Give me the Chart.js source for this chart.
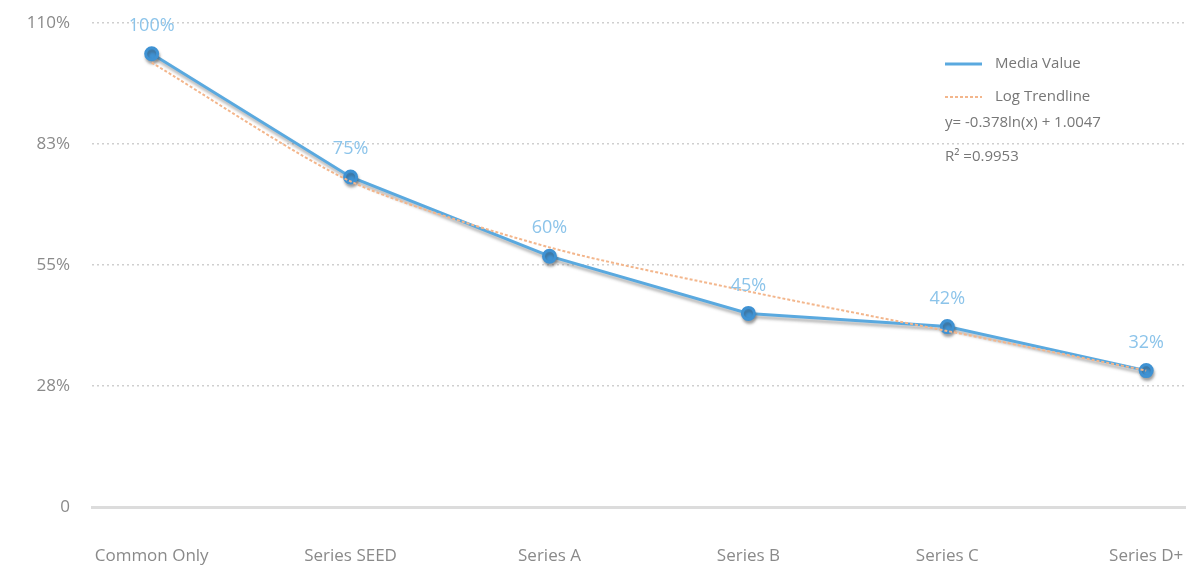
<!DOCTYPE html>
<html>
<head>
<meta charset="utf-8">
<script src="https://cdn.jsdelivr.net/npm/chart.js@4"></script>
<style>
  html, body { margin: 0; padding: 0; background: #fff; overflow: hidden; }
  #wrap { width: 1186px; height: 568px; position: relative; }
  canvas { display: block; }
</style>
</head>
<body>
<div id="wrap"><canvas id="chart"></canvas></div>
<script>
// values
const categories = ['Common Only', 'Series SEED', 'Series A', 'Series B', 'Series C', 'Series D+'];
const mediaValue = [103, 75, 57, 44, 41, 31];
const pointLabels = ['100%', '75%', '60%', '45%', '42%', '32%'];
const trendline = [101, 74, 59, 49, 40, 31];
const yTicks = [0, 27.5, 55, 82.5, 110];
const yTickLabels = ['0', '28%', '55%', '83%', '110%'];
const legendNames = ['Media Value', 'Log Trendline'];
const equation = 'y= -0.378ln(x) + 1.0047';
const rSquared = 'R² =0.9953';

const FONT = "'Open Sans', sans-serif";
const BLUE = '#5aa9df';
const BLUE_DOT = '#3f92d3';
const ORANGE = '#f3b68c';
const GREY_TEXT = '#8a8a8a';

// soft shadow under the blue line
const lineShadow = {
  id: 'lineShadow',
  beforeDatasetDraw(chart, args) {
    if (args.index !== 0) return;
    const ctx = chart.ctx;
    ctx.save();
    ctx.shadowColor = 'rgba(60,60,60,0.4)';
    ctx.shadowOffsetX = 1;
    ctx.shadowOffsetY = 3;
    ctx.shadowBlur = 3;
  },
  afterDatasetDraw(chart, args) {
    if (args.index !== 0) return;
    chart.ctx.restore();
  }
};

// value labels above the blue points
const valueLabels = {
  id: 'valueLabels',
  afterDatasetsDraw(chart) {
    const ctx = chart.ctx;
    const meta = chart.getDatasetMeta(0);
    ctx.save();
    ctx.font = '18px ' + FONT;
    ctx.fillStyle = '#8cc4ea';
    ctx.textAlign = 'center';
    ctx.textBaseline = 'middle';
    meta.data.forEach((pt, i) => {
      ctx.fillText(pointLabels[i], pt.x, pt.y - 28);
    });
    ctx.restore();
  }
};

// legend + equation in the top right corner
const cornerLegend = {
  id: 'cornerLegend',
  afterDraw(chart) {
    const ctx = chart.ctx;
    const x = chart.chartArea.right - 241;
    ctx.save();
    ctx.lineWidth = 3;
    ctx.strokeStyle = BLUE;
    ctx.beginPath();
    ctx.moveTo(x, 64);
    ctx.lineTo(x + 37, 64);
    ctx.stroke();
    ctx.lineWidth = 2;
    ctx.strokeStyle = ORANGE;
    ctx.setLineDash([3, 2]);
    ctx.beginPath();
    ctx.moveTo(x, 97);
    ctx.lineTo(x + 37, 97);
    ctx.stroke();
    ctx.setLineDash([]);
    ctx.font = '15px ' + FONT;
    ctx.fillStyle = '#777';
    ctx.textBaseline = 'middle';
    ctx.fillText(legendNames[0], x + 50, 64);
    ctx.fillText(legendNames[1], x + 50, 97);
    ctx.fillText(equation, x, 123);
    ctx.fillText(rSquared, x, 157);
    ctx.restore();
  }
};

new Chart(document.getElementById('chart'), {
  type: 'line',
  data: {
    datasets: [
      {
        label: legendNames[0],
        data: mediaValue.map((v, i) => ({ x: i, y: v })),
        borderColor: BLUE,
        borderWidth: 3,
        pointRadius: 6,
        pointBackgroundColor: BLUE_DOT,
        pointBorderColor: BLUE_DOT,
        tension: 0,
        order: 2
      },
      {
        label: legendNames[1],
        data: trendline.map((v, i) => ({ x: i, y: v })),
        borderColor: ORANGE,
        borderWidth: 2,
        borderDash: [3, 2],
        pointRadius: 0,
        tension: 0.25,
        order: 1
      }
    ]
  },
  options: {
    responsive: true,
    maintainAspectRatio: false,
    animation: false,
    layout: { autoPadding: false, padding: { left: 0, right: 0, top: 23, bottom: 0 } },
    plugins: {
      legend: { display: false },
      tooltip: { enabled: false }
    },
    scales: {
      x: {
        type: 'linear',
        min: -0.3,
        max: 5.2,
        afterBuildTicks: axis => { axis.ticks = categories.map((c, i) => ({ value: i })); },
        afterFit: axis => {
          axis.height = 61;
          axis.paddingLeft = 0;
          axis.paddingRight = 0;
        },
        ticks: {
          callback: (v, i) => categories[i],
          font: { family: FONT, size: 17 },
          color: GREY_TEXT,
          padding: 31,
          maxRotation: 0
        },
        grid: { display: false },
        border: { display: true, color: '#dcdcdc', width: 3 }
      },
      y: {
        min: 0,
        max: 110,
        afterBuildTicks: axis => { axis.ticks = yTicks.map(v => ({ value: v })); },
        afterFit: axis => {
          axis.width = 92;
          axis.paddingTop = 0;
          axis.paddingBottom = 0;
        },
        ticks: {
          callback: (v, i) => yTickLabels[i],
          font: { family: FONT, size: 17 },
          color: GREY_TEXT,
          padding: 22
        },
        grid: {
          color: '#cfcfcf',
          lineWidth: 1.5,
          drawTicks: false
        },
        border: { display: false, dash: [2, 3] }
      }
    }
  },
  plugins: [lineShadow, valueLabels, cornerLegend]
});
</script>
</body>
</html>
